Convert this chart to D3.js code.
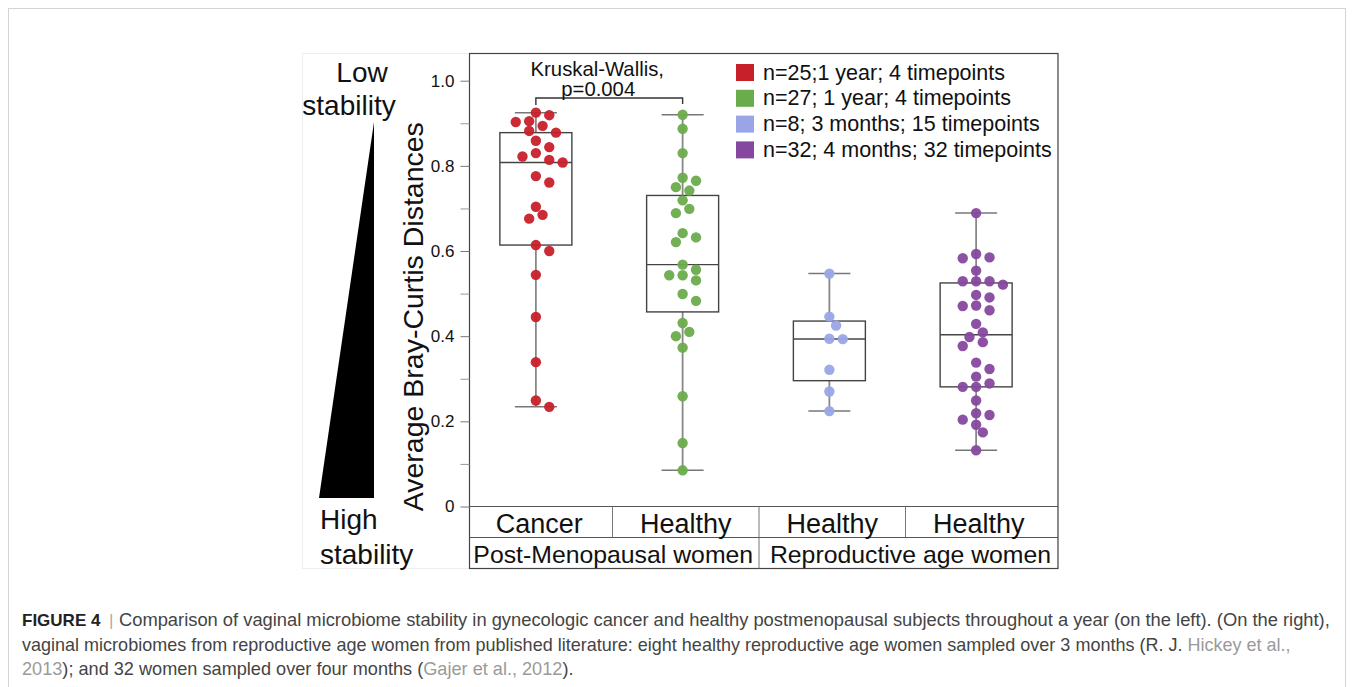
<!DOCTYPE html>
<html>
<head>
<meta charset="utf-8">
<script src="https://cdn.jsdelivr.net/npm/d3@7"></script>
<style>
  body { margin: 0; background: #fff; }
  svg { display: block; }
</style>
</head>
<body>
<svg id="chart"></svg>
<script>
const width = 1354;
const height = 687;

// data
const groups = ["cancer", "healthyPM", "hickey", "gajer"];
const groupLabels = ["Cancer", "Healthy", "Healthy", "Healthy"];
const superGroups = ["Post-Menopausal women", "Reproductive age women"];
const legendLabels = [
  "n=25;1 year; 4 timepoints",
  "n=27; 1 year; 4 timepoints",
  "n=8; 3 months; 15 timepoints",
  "n=32; 4 months; 32 timepoints"
];
const colors = ["#c8202a", "#6aab4c", "#9aa5e8", "#86489e"];

const cancerValues = [0.925, 0.919, 0.905, 0.903, 0.894, 0.882, 0.878, 0.859, 0.844, 0.830,
  0.822, 0.814, 0.808, 0.776, 0.761, 0.704, 0.685, 0.676, 0.614, 0.600,
  0.544, 0.445, 0.339, 0.249, 0.234];
const healthyPMValues = [0.920, 0.887, 0.830, 0.772, 0.765, 0.750, 0.742, 0.719, 0.699, 0.689,
  0.642, 0.632, 0.621, 0.568, 0.556, 0.543, 0.543, 0.531, 0.499, 0.483,
  0.431, 0.410, 0.400, 0.373, 0.259, 0.149, 0.085];
const hickeyValues = [0.547, 0.446, 0.425, 0.394, 0.393, 0.321, 0.270, 0.224];
const gajerValues = [0.689, 0.593, 0.585, 0.583, 0.554, 0.529, 0.529, 0.529, 0.521, 0.497,
  0.491, 0.472, 0.471, 0.461, 0.429, 0.409, 0.398, 0.386, 0.377, 0.338,
  0.323, 0.305, 0.289, 0.281, 0.281, 0.249, 0.219, 0.215, 0.204, 0.192,
  0.174, 0.132];
const seriesValues = [cancerValues, healthyPMValues, hickeyValues, gajerValues];

const majorTicks = [0, 0.2, 0.4, 0.6, 0.8, 1.0];
const minorTicks = [0.1, 0.3, 0.5, 0.7, 0.9];

const svg = d3.select("#chart")
  .attr("width", width)
  .attr("height", height);

// page border
svg.append("rect")
  .attr("x", 8.5).attr("y", 8.5)
  .attr("width", 1337).attr("height", 700)
  .attr("fill", "none").attr("stroke", "#d4d4d4");

// figure panel frame (light)
svg.append("rect")
  .attr("x", 302.5).attr("y", 53.5)
  .attr("width", 755).attr("height", 515)
  .attr("fill", "none").attr("stroke", "#eeeeee");

const frame = {left: 469.5, right: 1058, top: 53.5, bottom: 568.5};
const font = "'Liberation Sans', Arial, Helvetica, sans-serif";

// Scales
const y = d3.scaleLinear().domain([0, 1]).range([506.5, 80.7]);
const x = d3.scaleBand().domain(groups).range([462.5, 1049.5]);
const xCell = d3.scaleBand().domain(groups).range([466, 1052]);

// plot frame
svg.append("rect")
  .attr("x", frame.left).attr("y", frame.top)
  .attr("width", frame.right - frame.left).attr("height", frame.bottom - frame.top)
  .attr("fill", "none").attr("stroke", "#444").attr("stroke-width", 1.2);

// Axes
const yAxis = svg.append("g")
  .attr("transform", `translate(${frame.left},0)`)
  .call(d3.axisLeft(y).tickValues(majorTicks).tickSize(9).tickPadding(6)
    .tickFormat(d => d === 0 ? "0" : d3.format(".1f")(d)));
yAxis.select(".domain").remove();
yAxis.selectAll(".tick line").attr("stroke", "#777");
yAxis.selectAll(".tick text")
  .attr("font-family", font).attr("font-size", 17).attr("fill", "#111");

const yMinor = svg.append("g")
  .attr("transform", `translate(${frame.left},0)`)
  .call(d3.axisLeft(y).tickValues(minorTicks).tickSize(9).tickFormat(""));
yMinor.select(".domain").remove();
yMinor.selectAll(".tick line").attr("stroke", "#999");

// zero line and category table
svg.append("line")
  .attr("x1", frame.left).attr("x2", frame.right)
  .attr("y1", y(0)).attr("y2", y(0))
  .attr("stroke", "#555").attr("stroke-width", 1.2);
svg.append("line")
  .attr("x1", frame.left).attr("x2", frame.right)
  .attr("y1", 537.5).attr("y2", 537.5)
  .attr("stroke", "#555").attr("stroke-width", 1.2);

groups.slice(1).forEach((g, i) => {
  svg.append("line")
    .attr("x1", xCell(g)).attr("x2", xCell(g))
    .attr("y1", y(0)).attr("y2", i === 1 ? frame.bottom : 537.5)
    .attr("stroke", "#777").attr("stroke-width", 1);
});

svg.selectAll("text.cat")
  .data(groups)
  .enter()
  .append("text")
    .attr("class", "cat")
    .attr("x", d => xCell(d) + xCell.bandwidth() / 2)
    .attr("y", 532.5)
    .attr("text-anchor", "middle")
    .attr("font-family", font).attr("font-size", 27).attr("fill", "#111")
    .text((d, i) => groupLabels[i]);

svg.selectAll("text.super")
  .data(superGroups)
  .enter()
  .append("text")
    .attr("class", "super")
    .attr("x", (d, i) => i === 0
      ? (frame.left + xCell(groups[2])) / 2 - 1
      : (xCell(groups[2]) + frame.right) / 2 + 2)
    .attr("y", 562.5)
    .attr("text-anchor", "middle")
    .attr("font-family", font).attr("font-size", 24.8).attr("fill", "#111")
    .text(d => d);

// y axis title
svg.append("text")
  .attr("transform", `translate(423,316.7) rotate(-90)`)
  .attr("text-anchor", "middle")
  .attr("font-family", font).attr("font-size", 28.5).attr("fill", "#111")
  .text("Average Bray-Curtis Distances");

// stability wedge
svg.append("path")
  .attr("d", "M319,498 L374,498 L374,122 Z")
  .attr("fill", "#000");
const sideLabels = [
  {t: "Low", x: 362, y: 82}, {t: "stability", x: 349, y: 115},
  {t: "High", x: 320, y: 529, a: "start"}, {t: "stability", x: 320, y: 564, a: "start"}
];
svg.selectAll("text.side")
  .data(sideLabels)
  .enter()
  .append("text")
    .attr("x", d => d.x).attr("y", d => d.y)
    .attr("text-anchor", d => d.a || "middle")
    .attr("font-family", font).attr("font-size", 28).attr("fill", "#111")
    .text(d => d.t);

// Boxes (Tukey hinges)
function hinges(vals) {
  const s = vals.slice().sort(d3.ascending);
  const n = s.length;
  const half = Math.ceil(n / 2);
  return {
    min: s[0], max: s[n - 1],
    q1: d3.median(s.slice(0, half)),
    med: d3.median(s),
    q3: d3.median(s.slice(n - half))
  };
}

const boxW = 72, capW = 42;
groups.forEach((g, i) => {
  const st = hinges(seriesValues[i]);
  const cx = x(g) + x.bandwidth() / 2;
  const box = svg.append("g");
  box.append("line")
    .attr("x1", cx).attr("x2", cx)
    .attr("y1", y(st.max)).attr("y2", y(st.min))
    .attr("stroke", "#888").attr("stroke-width", 1.8);
  [st.min, st.max].forEach(v => {
    box.append("line")
      .attr("x1", cx - capW / 2).attr("x2", cx + capW / 2)
      .attr("y1", y(v)).attr("y2", y(v))
      .attr("stroke", "#777").attr("stroke-width", 1.5);
  });
  box.append("rect")
    .attr("x", cx - boxW / 2).attr("y", y(st.q3))
    .attr("width", boxW).attr("height", y(st.q1) - y(st.q3))
    .attr("fill", "#fff").attr("stroke", "#444").attr("stroke-width", 1.4);
  box.append("line")
    .attr("x1", cx - boxW / 2).attr("x2", cx + boxW / 2)
    .attr("y1", y(st.med)).attr("y2", y(st.med))
    .attr("stroke", "#444").attr("stroke-width", 1.4);
});

// Points, simple dodge so they don't stack
const step = 6.7, minD = 9.6, r = 5.2;
function dodge(vals, cx) {
  const placed = [];
  return vals.slice().sort(d3.descending).map(v => {
    const cy = y(v);
    for (let k = 0; k < 30; k++) {
      const off = k === 0 ? 0 : (k % 2 ? 1 : -1) * Math.ceil(k / 2) * step;
      if (placed.every(p => Math.hypot(p[0] - (cx + off), p[1] - cy) >= minD)) {
        placed.push([cx + off, cy]);
        return {x: cx + off, y: cy};
      }
    }
    return {x: cx, y: cy};
  });
}

groups.forEach((g, i) => {
  const pts = dodge(seriesValues[i], x(g) + x.bandwidth() / 2);
  svg.append("g").selectAll("circle")
    .data(pts)
    .enter()
    .append("circle")
      .attr("cx", d => d.x)
      .attr("cy", d => d.y)
      .attr("r", r)
      .attr("fill", colors[i])
      .attr("fill-opacity", 0.95);
});

// Kruskal-Wallis bracket
const c0 = x(groups[0]) + x.bandwidth() / 2;
const c1 = x(groups[1]) + x.bandwidth() / 2;
svg.append("path")
  .attr("d", `M${c0},105 L${c0},98 L${c1},98 L${c1},104`)
  .attr("fill", "none").attr("stroke", "#333").attr("stroke-width", 1.4);
svg.append("text")
  .attr("x", (c0 + c1) / 2 - 12).attr("y", 75.5)
  .attr("text-anchor", "middle")
  .attr("font-family", font).attr("font-size", 20.3).attr("fill", "#111")
  .text("Kruskal-Wallis,");
svg.append("text")
  .attr("x", (c0 + c1) / 2 - 11).attr("y", 96)
  .attr("text-anchor", "middle")
  .attr("font-family", font).attr("font-size", 20.3).attr("fill", "#111")
  .text("p=0.004");

// Legend
const legend = svg.append("g")
  .attr("transform", "translate(736,64)");
legend.selectAll("rect")
  .data(legendLabels)
  .enter()
  .append("rect")
    .attr("x", 0)
    .attr("y", (d, i) => i * 25.8)
    .attr("width", 18).attr("height", 17)
    .attr("fill", (d, i) => colors[i]);
legend.selectAll("text")
  .data(legendLabels)
  .enter()
  .append("text")
    .attr("x", 27)
    .attr("y", (d, i) => i * 25.8 + 15.5)
    .attr("font-family", font).attr("font-size", 21.5).attr("fill", "#111")
    .text(d => d);

// Caption
const capFont = "'Liberation Sans', Arial, sans-serif";
const dark = "#444", light = "#9a9a9a";
svg.append("text")
  .attr("x", 22).attr("y", 626)
  .attr("font-family", capFont).attr("font-size", 17).attr("font-weight", "bold")
  .attr("fill", "#222")
  .text("FIGURE 4");
svg.append("text")
  .attr("x", 109).attr("y", 626)
  .attr("font-family", capFont).attr("font-size", 17)
  .attr("fill", "#aaa")
  .text("|");

const captionLines = [
  {x: 119, y: 626, w: 1212, parts: [
    ["Comparison of vaginal microbiome stability in gynecologic cancer and healthy postmenopausal subjects throughout a year (on the left). (On the right),", dark]]},
  {x: 22, y: 651, w: 1270, parts: [
    ["vaginal microbiomes from reproductive age women from published literature: eight healthy reproductive age women sampled over 3 months (R. J. ", dark],
    ["Hickey et al.,", light]]},
  {x: 22, y: 675, w: 552, parts: [
    ["2013", light], ["); and 32 women sampled over four months (", dark],
    ["Gajer et al., 2012", light], [").", dark]]}
];
captionLines.forEach(line => {
  const t = svg.append("text")
    .attr("font-family", capFont).attr("font-size", 17.5)
    .attr("transform", `translate(${line.x},${line.y})`);
  line.parts.forEach(p => {
    t.append("tspan")
      .attr("fill", p[1])
      .style("white-space", "pre")
      .text(p[0]);
  });
  const len = t.node().getComputedTextLength();
  t.attr("transform", `translate(${line.x},${line.y}) scale(${line.w / len},1)`);
});
</script>
</body>
</html>
